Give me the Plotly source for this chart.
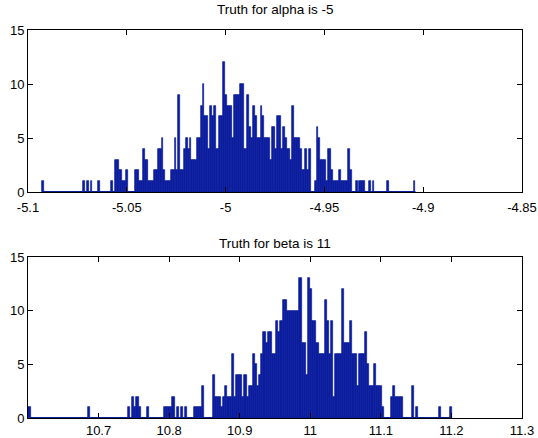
import plotly.graph_objects as go

# ---- data ----
TOP_TITLE = "Truth for alpha is -5"
BOT_TITLE = "Truth for beta is 11"

TOP_MIN = -5.09291
TOP_MAX = -4.90390
TOP_COUNTS = [
    1, 0, 0, 0, 0, 0, 0, 0, 0, 0,
    0, 0, 0, 0, 0, 0, 0, 0, 0, 0,
    0, 0, 1, 0, 1, 0, 1, 0, 0, 0,
    1, 0, 0, 0, 0, 0, 0, 1, 0, 3,
    3, 2, 2, 1, 1, 2, 0, 0, 0, 0,
    2, 2, 1, 1, 4, 3, 3, 1, 1, 1,
    2, 2, 4, 4, 5, 2, 1, 1, 1, 2,
    2, 5, 2, 9, 2, 2, 4, 5, 4, 5,
    3, 3, 3, 5, 5, 8, 10, 7, 7, 4,
    8, 7, 8, 4, 4, 7, 7, 12, 9, 8,
    8, 8, 5, 9, 9, 9, 10, 10, 4, 4,
    9, 6, 5, 8, 7, 5, 5, 8, 7, 5,
    5, 5, 3, 6, 6, 4, 7, 7, 4, 6,
    5, 4, 4, 3, 8, 5, 5, 5, 4, 2,
    2, 4, 2, 4, 0, 0, 1, 6, 5, 3,
    3, 3, 1, 4, 4, 2, 1, 1, 1, 2,
    1, 1, 1, 1, 4, 2, 0, 0, 1, 0,
    1, 1, 1, 0, 0, 1, 0, 1, 0, 0,
    0, 0, 0, 0, 0, 1, 0, 0, 0, 0,
    0, 0, 0, 0, 0, 0, 0, 0, 0, 1,
]

BOT_MIN = 10.6006
BOT_MAX = 11.2007
BOT_COUNTS = [
    1, 0, 0, 0, 0, 0, 0, 0, 0, 0,
    0, 0, 0, 0, 0, 0, 0, 0, 0, 0,
    0, 0, 0, 0, 0, 0, 0, 0, 1, 0,
    0, 0, 0, 0, 0, 0, 0, 0, 0, 0,
    0, 0, 0, 0, 0, 0, 0, 1, 0, 2,
    1, 2, 1, 0, 0, 0, 1, 0, 0, 0,
    0, 0, 0, 0, 1, 1, 1, 1, 2, 0,
    1, 0, 1, 0, 1, 0, 0, 0, 1, 1,
    1, 1, 3, 0, 0, 0, 0, 4, 2, 2,
    2, 1, 2, 3, 2, 2, 6, 2, 4, 4,
    4, 2, 4, 2, 3, 3, 6, 5, 3, 4,
    6, 8, 7, 8, 8, 6, 6, 9, 8, 9,
    11, 11, 10, 10, 10, 10, 10, 10, 13, 7,
    7, 4, 13, 12, 9, 9, 7, 6, 6, 6,
    11, 9, 6, 9, 2, 6, 6, 6, 12, 7,
    7, 7, 9, 6, 6, 3, 6, 6, 6, 8,
    5, 3, 3, 5, 3, 3, 3, 1, 0, 0,
    0, 2, 3, 2, 2, 2, 2, 0, 0, 0,
    0, 3, 0, 1, 0, 0, 0, 0, 0, 0,
    0, 0, 0, 0, 1, 0, 0, 0, 0, 1,
]

TOP_XRANGE = [-5.1, -4.85]
TOP_XTICKS = [-5.1, -5.05, -5.0, -4.95, -4.9, -4.85]
TOP_XTICKTEXT = ["-5.1", "-5.05", "-5", "-4.95", "-4.9", "-4.85"]
BOT_XRANGE = [10.6, 11.3]
BOT_XTICKS = [10.7, 10.8, 10.9, 11.0, 11.1, 11.2, 11.3]
BOT_XTICKTEXT = ["10.7", "10.8", "10.9", "11", "11.1", "11.2", "11.3"]
Y_RANGE = [0, 15]
Y_TICKS = [0, 5, 10, 15]

# ---- style / layout ----
W, H = 538, 438
BAR_COLOR = "#0a1c9e"
FONT = "Liberation Sans, Arial, Helvetica, sans-serif"
FS_TICK = 13
FS_TITLE = 13.5


def px_x(x):
    return x / W


def px_y(y):
    return 1 - y / H


def hist_geometry(vmin, vmax, counts):
    n = len(counts)
    w = (vmax - vmin) / n
    centers = [vmin + w * (i + 0.5) for i in range(n)]
    return centers, w


fig = go.Figure()

for counts, vmin, vmax, xa, ya in [
    (TOP_COUNTS, TOP_MIN, TOP_MAX, "x", "y"),
    (BOT_COUNTS, BOT_MIN, BOT_MAX, "x2", "y2"),
]:
    centers, w = hist_geometry(vmin, vmax, counts)
    fig.add_trace(go.Bar(
        x=centers, y=counts, width=w,
        marker=dict(color=BAR_COLOR, line=dict(color=BAR_COLOR, width=0.7)),
        xaxis=xa, yaxis=ya, showlegend=False, hoverinfo="skip",
    ))
    fig.add_trace(go.Scatter(
        x=[vmin, vmax], y=[0, 0], mode="lines",
        line=dict(color=BAR_COLOR, width=2),
        xaxis=xa, yaxis=ya, showlegend=False, hoverinfo="skip",
    ))

xdom = [px_x(28), px_x(522)]
top_dom = [px_y(192), px_y(30)]
bot_dom = [px_y(418), px_y(257)]

axis_common = dict(
    showline=True, linecolor="black", linewidth=1, mirror="ticks",
    ticks="inside", ticklen=5, tickwidth=1, tickcolor="black",
    showgrid=False, zeroline=False, automargin=False,
    tickfont=dict(family=FONT, size=FS_TICK, color="black"),
)

fig.update_layout(
    width=W, height=H, autosize=False,
    margin=dict(l=0, r=0, t=0, b=0, pad=0),
    paper_bgcolor="white", plot_bgcolor="white",
    barmode="overlay", bargap=0,
    font=dict(family=FONT, size=FS_TICK, color="black"),
    xaxis=dict(domain=xdom, range=TOP_XRANGE, tickvals=TOP_XTICKS,
               ticktext=TOP_XTICKTEXT, anchor="y", ticklabelstandoff=3,
               **axis_common),
    yaxis=dict(domain=top_dom, range=Y_RANGE, tickvals=Y_TICKS,
               anchor="x", **axis_common),
    xaxis2=dict(domain=xdom, range=BOT_XRANGE, tickvals=BOT_XTICKS,
                ticktext=BOT_XTICKTEXT, anchor="y2", ticklabelstandoff=0,
                **axis_common),
    yaxis2=dict(domain=bot_dom, range=Y_RANGE, tickvals=Y_TICKS,
                anchor="x2", **axis_common),
    annotations=[
        dict(text=TOP_TITLE, x=(xdom[0] + xdom[1]) / 2, y=px_y(10),
             xref="paper", yref="paper", xanchor="center", yanchor="middle",
             showarrow=False, font=dict(family=FONT, size=FS_TITLE)),
        dict(text=BOT_TITLE, x=(xdom[0] + xdom[1]) / 2, y=px_y(243),
             xref="paper", yref="paper", xanchor="center", yanchor="middle",
             showarrow=False, font=dict(family=FONT, size=FS_TITLE)),
    ],
)

fig.write_html("out.html")
